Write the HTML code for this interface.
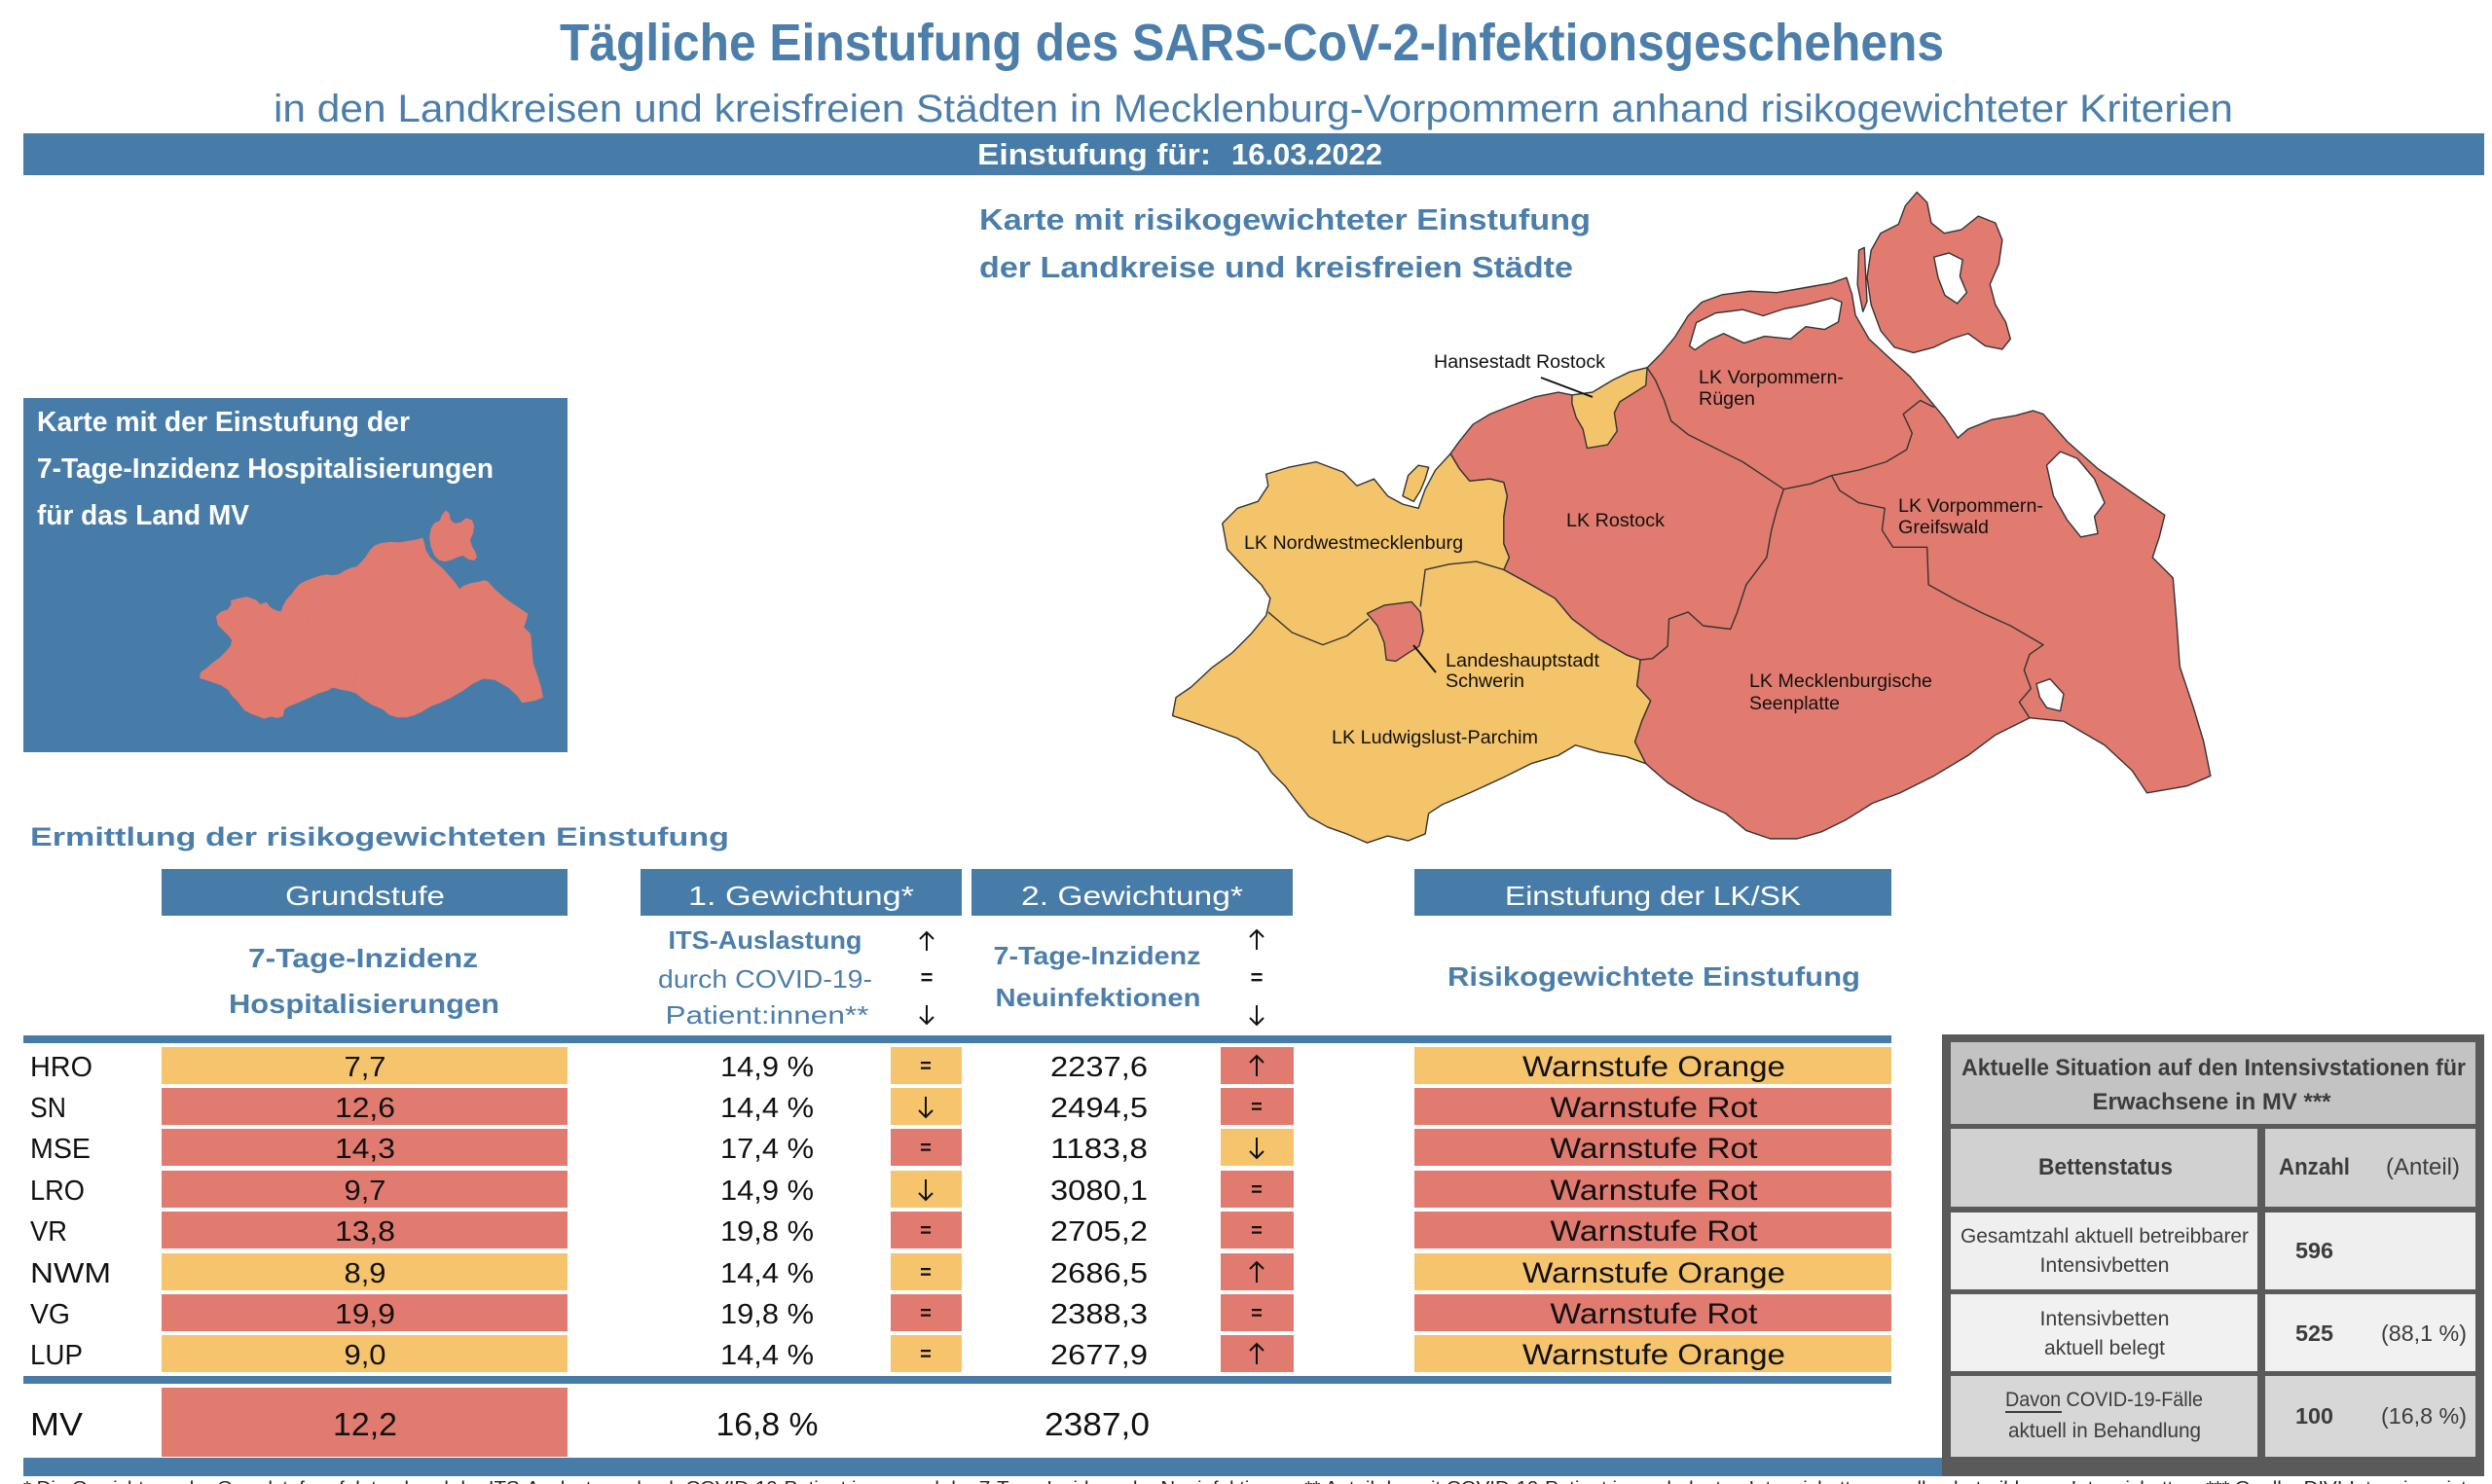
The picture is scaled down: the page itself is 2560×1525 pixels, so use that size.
<!DOCTYPE html>
<html><head><meta charset="utf-8"><style>
html,body{margin:0;padding:0;background:#fff}
svg{display:block}
text{font-family:"Liberation Sans","DejaVu Sans",sans-serif}
</style></head><body>
<svg width="2560" height="1525" viewBox="0 0 2560 1525" xmlns="http://www.w3.org/2000/svg">
<rect width="2560" height="1525" fill="#fff"/>

<!-- Titles -->
<text x="575" y="62" font-size="54" font-weight="bold" fill="#4b7eab" textLength="1422" lengthAdjust="spacingAndGlyphs">Tägliche Einstufung des SARS-CoV-2-Infektionsgeschehens</text>
<text x="281" y="125" font-size="40" fill="#4b7eab" textLength="2013" lengthAdjust="spacingAndGlyphs">in den Landkreisen und kreisfreien Städten in Mecklenburg-Vorpommern anhand risikogewichteter Kriterien</text>
<rect x="24" y="137" width="2528" height="43" fill="#477ca8"/>
<text x="1004" y="169" font-size="31" font-weight="bold" fill="#fff" textLength="240" lengthAdjust="spacingAndGlyphs">Einstufung für:</text>
<text x="1265" y="169" font-size="31" font-weight="bold" fill="#fff" textLength="155" lengthAdjust="spacingAndGlyphs">16.03.2022</text>

<!-- Left box -->
<rect x="24" y="409" width="559" height="364" fill="#477ca8"/>
<text x="38" y="443" font-size="29" font-weight="bold" fill="#fff" textLength="383" lengthAdjust="spacingAndGlyphs">Karte mit der Einstufung der</text>
<text x="38" y="491" font-size="29" font-weight="bold" fill="#fff" textLength="469" lengthAdjust="spacingAndGlyphs">7-Tage-Inzidenz Hospitalisierungen</text>
<text x="38" y="539" font-size="29" font-weight="bold" fill="#fff" textLength="218" lengthAdjust="spacingAndGlyphs">für das Land MV</text>
<g transform="translate(205,525) scale(0.2322,0.2249) translate(-35,-28)" fill="#e27b6f">
<polygon points="442,408 455,390 475,365 500,350 530,338 565,325 600,318 620,322 650,318 680,300 705,288 730,282 750,262 770,238 790,206 810,186 840,175 880,170 920,172 960,165 1000,158 1022,150 1030,175 1035,205 1055,240 1085,268 1115,295 1140,325 1165,355 1185,385 1200,372 1235,358 1270,352 1295,345 1310,350 1345,390 1390,430 1440,465 1488,498 1480,530 1470,560 1500,590 1505,650 1510,720 1530,780 1545,830 1555,880 1520,895 1462,905 1440,872 1400,835 1340,800 1290,795 1240,820 1200,850 1150,880 1100,905 1060,920 1020,945 985,962 950,972 910,972 875,960 845,935 800,915 760,890 728,862 712,830 722,800 735,770 715,748 720,710 700,703 660,680 620,650 595,620 560,600 520,578 528,560 520,540 520,500 525,470 520,450 500,445 470,448 455,430"/>
<polygon points="108,510 130,488 160,478 175,455 172,438 205,428 245,420 285,435 305,455 330,445 350,470 372,482 395,488 405,460 420,432 442,408 455,430 470,448 500,445 520,450 525,470 520,500 520,540 528,560 520,578 560,600 595,620 620,650 660,680 700,703 720,710 715,748 735,770 722,800 712,830 728,862 700,852 660,845 625,835 600,850 560,862 520,882 470,905 430,922 410,935 405,965 380,975 350,968 320,978 290,965 262,955 235,940 215,915 200,895 180,875 160,845 130,825 95,812 60,800 35,792 40,765 62,750 92,722 122,700 150,672 172,645 178,620 165,600 140,575 115,548"/>
<polygon points="1058,190 1052,150 1058,110 1072,85 1098,72 1108,45 1125,25 1140,40 1146,70 1165,85 1190,80 1215,60 1240,70 1250,95 1245,130 1232,160 1240,190 1255,215 1262,240 1250,255 1225,250 1200,232 1175,240 1150,252 1120,260 1092,252 1072,228"/>
</g>

<!-- Map title -->
<text x="1006" y="236" font-size="31" font-weight="bold" fill="#4b7eab" textLength="628" lengthAdjust="spacingAndGlyphs">Karte mit risikogewichteter Einstufung</text>
<text x="1006" y="285" font-size="31" font-weight="bold" fill="#4b7eab" textLength="610" lengthAdjust="spacingAndGlyphs">der Landkreise und kreisfreien Städte</text>

<!-- Big map -->
<g transform="translate(1180,180) scale(0.70151)" stroke="#333" stroke-width="1.4" stroke-linejoin="round">
<polygon vector-effect="non-scaling-stroke" fill="#e27b6f" points="442,408 455,390 475,365 500,350 530,338 565,325 600,318 620,322 650,318 680,300 705,288 730,282 750,262 770,238 790,206 810,186 840,175 880,170 920,172 960,165 1000,158 1022,150 1030,175 1035,205 1055,240 1085,268 1115,295 1140,325 1165,355 1185,385 1200,372 1235,358 1270,352 1295,345 1310,350 1345,390 1390,430 1440,465 1488,498 1480,530 1470,560 1500,590 1505,650 1510,720 1530,780 1545,830 1555,880 1520,895 1462,905 1440,872 1400,835 1340,800 1290,795 1240,820 1200,850 1150,880 1100,905 1060,920 1020,945 985,962 950,972 910,972 875,960 845,935 800,915 760,890 728,862 712,830 722,800 735,770 715,748 720,710 700,703 660,680 620,650 595,620 560,600 520,578 528,560 520,540 520,500 525,470 520,450 500,445 470,448 455,430"/>
<polygon vector-effect="non-scaling-stroke" fill="#f4c46b" points="108,510 130,488 160,478 175,455 172,438 205,428 245,420 285,435 305,455 330,445 350,470 372,482 395,488 405,460 420,432 442,408 455,430 470,448 500,445 520,450 525,470 520,500 520,540 528,560 520,578 560,600 595,620 620,650 660,680 700,703 720,710 715,748 735,770 722,800 712,830 728,862 700,852 660,845 625,835 600,850 560,862 520,882 470,905 430,922 410,935 405,965 380,975 350,968 320,978 290,965 262,955 235,940 215,915 200,895 180,875 160,845 130,825 95,812 60,800 35,792 40,765 62,750 92,722 122,700 150,672 172,645 178,620 165,600 140,575 115,548"/>
<polygon vector-effect="non-scaling-stroke" fill="#f4c46b" points="372,470 380,440 395,425 410,428 405,445 398,462 388,478"/>
<polygon vector-effect="non-scaling-stroke" fill="#e27b6f" points="1058,190 1052,150 1058,110 1072,85 1098,72 1108,45 1125,25 1140,40 1146,70 1165,85 1190,80 1215,60 1240,70 1250,95 1245,130 1232,160 1240,190 1255,215 1262,240 1250,255 1225,250 1200,232 1175,240 1150,252 1120,260 1092,252 1072,228"/>
<polygon vector-effect="non-scaling-stroke" fill="#e27b6f" points="1040,110 1048,106 1052,185 1046,200 1038,160"/>
<polygon vector-effect="non-scaling-stroke" fill="#fff" points="1150,120 1172,114 1192,124 1188,148 1198,172 1184,188 1166,176 1156,150"/>
<polygon vector-effect="non-scaling-stroke" fill="#fff" points="792,250 802,216 830,202 870,197 900,206 930,196 962,190 1000,180 1015,186 1010,215 990,226 962,222 940,240 902,236 872,246 842,232 820,242 800,256"/>
<polygon vector-effect="non-scaling-stroke" fill="#fff" points="1315,425 1335,405 1360,415 1385,445 1400,480 1385,500 1390,525 1365,530 1345,505 1325,470"/>
<polygon vector-effect="non-scaling-stroke" fill="#fff" points="1300,745 1320,738 1340,760 1335,785 1315,780 1305,765"/>
<polygon vector-effect="non-scaling-stroke" fill="#f4c46b" points="620,322 650,318 680,300 705,288 730,282 728,308 706,322 690,332 682,348 686,375 672,395 642,400 636,372 626,355 620,335"/>
<polygon vector-effect="non-scaling-stroke" fill="#e27b6f" points="320,642 345,630 385,625 398,640 402,668 396,690 380,700 362,712 348,710 345,685 335,660"/>
<g fill="none">
<polyline vector-effect="non-scaling-stroke" points="175,640 210,670 255,688 290,675 322,650"/>
<polyline vector-effect="non-scaling-stroke" points="398,632 405,578 440,570 480,566 520,578"/>
<polyline vector-effect="non-scaling-stroke" points="730,282 742,300 755,330 765,360 790,380 830,400 870,420 900,440 930,460"/>
<polyline vector-effect="non-scaling-stroke" points="930,460 920,490 912,520 905,560 875,600 862,640 852,665 812,660 790,640 762,650 760,690 738,708 720,710"/>
<polyline vector-effect="non-scaling-stroke" points="930,460 970,452 1000,440 1040,432 1080,420 1110,402 1118,378 1105,350 1130,330 1150,340"/>
<polyline vector-effect="non-scaling-stroke" points="1000,440 1012,462 1040,480 1078,488 1074,520 1090,545 1140,545 1142,600 1182,622 1222,642 1262,660 1310,688 1290,702 1282,725 1292,752 1275,772 1290,795"/>
</g>
</g>
<!-- leader lines -->
<line x1="1583" y1="388" x2="1636" y2="408" stroke="#111" stroke-width="2"/>
<line x1="1452" y1="663" x2="1475" y2="691" stroke="#111" stroke-width="2"/>
<!-- map labels -->
<g font-size="19" fill="#111">
<text x="1473" y="378" textLength="176" lengthAdjust="spacingAndGlyphs">Hansestadt Rostock</text>
<text x="1745" y="394" textLength="149" lengthAdjust="spacingAndGlyphs">LK Vorpommern-</text>
<text x="1745" y="416" textLength="58" lengthAdjust="spacingAndGlyphs">Rügen</text>
<text x="1609" y="541" textLength="101" lengthAdjust="spacingAndGlyphs">LK Rostock</text>
<text x="1950" y="526" textLength="149" lengthAdjust="spacingAndGlyphs">LK Vorpommern-</text>
<text x="1950" y="548" textLength="93" lengthAdjust="spacingAndGlyphs">Greifswald</text>
<text x="1278" y="564" textLength="225" lengthAdjust="spacingAndGlyphs">LK Nordwestmecklenburg</text>
<text x="1485" y="685" textLength="158" lengthAdjust="spacingAndGlyphs">Landeshauptstadt</text>
<text x="1485" y="706" textLength="81" lengthAdjust="spacingAndGlyphs">Schwerin</text>
<text x="1797" y="706" textLength="188" lengthAdjust="spacingAndGlyphs">LK Mecklenburgische</text>
<text x="1797" y="729" textLength="93" lengthAdjust="spacingAndGlyphs">Seenplatte</text>
<text x="1368" y="764" textLength="212" lengthAdjust="spacingAndGlyphs">LK Ludwigslust-Parchim</text>
</g>

<!-- Section heading -->
<text x="31" y="869" font-size="27" font-weight="bold" fill="#4b7eab" textLength="718" lengthAdjust="spacingAndGlyphs">Ermittlung der risikogewichteten Einstufung</text>

<!-- Header boxes -->
<rect x="166" y="893" width="417" height="48" fill="#477ca8"/>
<rect x="658" y="893" width="330" height="48" fill="#477ca8"/>
<rect x="998" y="893" width="330" height="48" fill="#477ca8"/>
<rect x="1453" y="893" width="490" height="48" fill="#477ca8"/>
<g font-size="28" fill="#fff" text-anchor="middle">
<text x="375" y="930" textLength="164" lengthAdjust="spacingAndGlyphs">Grundstufe</text>
<text x="823" y="930" textLength="232" lengthAdjust="spacingAndGlyphs">1. Gewichtung*</text>
<text x="1163" y="930" textLength="228" lengthAdjust="spacingAndGlyphs">2. Gewichtung*</text>
<text x="1698" y="930" textLength="304" lengthAdjust="spacingAndGlyphs">Einstufung der LK/SK</text>
</g>

<!-- Subheaders -->
<g fill="#4b7eab" text-anchor="middle">
<text x="373" y="994" font-size="28" font-weight="bold" textLength="236" lengthAdjust="spacingAndGlyphs">7-Tage-Inzidenz</text>
<text x="374" y="1041" font-size="28" font-weight="bold" textLength="278" lengthAdjust="spacingAndGlyphs">Hospitalisierungen</text>
<text x="786" y="975" font-size="26" font-weight="bold" textLength="199" lengthAdjust="spacingAndGlyphs">ITS-Auslastung</text>
<text x="786" y="1015" font-size="26" textLength="220" lengthAdjust="spacingAndGlyphs">durch COVID-19-</text>
<text x="788" y="1052" font-size="26" textLength="209" lengthAdjust="spacingAndGlyphs">Patient:innen**</text>
<text x="1127" y="991" font-size="26" font-weight="bold" textLength="213" lengthAdjust="spacingAndGlyphs">7-Tage-Inzidenz</text>
<text x="1128" y="1034" font-size="26" font-weight="bold" textLength="211" lengthAdjust="spacingAndGlyphs">Neuinfektionen</text>
<text x="1699" y="1013" font-size="28" font-weight="bold" textLength="424" lengthAdjust="spacingAndGlyphs">Risikogewichtete Einstufung</text>
</g>
<g font-size="22" fill="#111" text-anchor="middle" font-weight="bold">
<text x="952" y="1012">=</text>
<text x="1291" y="1012">=</text>
</g>
<g fill="none" stroke="#111" stroke-width="2">
<path d="M952 958 V977 M945 965 L952 958 L959 965"/>
<path d="M952 1033 V1052 M945 1045 L952 1052 L959 1045"/>
<path d="M1291 956 V976 M1284 963 L1291 956 L1298 963"/>
<path d="M1291 1033 V1053 M1284 1046 L1291 1053 L1298 1046"/>
</g>

<!-- lines -->
<rect x="24" y="1064" width="1919" height="8" fill="#477ca8"/>
<rect x="24" y="1414" width="1919" height="8" fill="#477ca8"/>
<rect x="24" y="1498" width="1972" height="19" fill="#477ca8"/>

<!-- Row boxes -->
<g>
<rect x="166" y="1076" width="417" height="38" fill="#f5c46d"/><rect x="915" y="1076" width="73" height="38" fill="#f5c46d"/><rect x="1254" y="1076" width="75" height="38" fill="#e27b6f"/><rect x="1453" y="1076" width="490" height="38" fill="#f5c46d"/>
<rect x="166" y="1118" width="417" height="38" fill="#e27b6f"/><rect x="915" y="1118" width="73" height="38" fill="#f5c46d"/><rect x="1254" y="1118" width="75" height="38" fill="#e27b6f"/><rect x="1453" y="1118" width="490" height="38" fill="#e27b6f"/>
<rect x="166" y="1160" width="417" height="38" fill="#e27b6f"/><rect x="915" y="1160" width="73" height="38" fill="#e27b6f"/><rect x="1254" y="1160" width="75" height="38" fill="#f5c46d"/><rect x="1453" y="1160" width="490" height="38" fill="#e27b6f"/>
<rect x="166" y="1203" width="417" height="38" fill="#e27b6f"/><rect x="915" y="1203" width="73" height="38" fill="#f5c46d"/><rect x="1254" y="1203" width="75" height="38" fill="#e27b6f"/><rect x="1453" y="1203" width="490" height="38" fill="#e27b6f"/>
<rect x="166" y="1245" width="417" height="38" fill="#e27b6f"/><rect x="915" y="1245" width="73" height="38" fill="#e27b6f"/><rect x="1254" y="1245" width="75" height="38" fill="#e27b6f"/><rect x="1453" y="1245" width="490" height="38" fill="#e27b6f"/>
<rect x="166" y="1288" width="417" height="38" fill="#f5c46d"/><rect x="915" y="1288" width="73" height="38" fill="#f5c46d"/><rect x="1254" y="1288" width="75" height="38" fill="#e27b6f"/><rect x="1453" y="1288" width="490" height="38" fill="#f5c46d"/>
<rect x="166" y="1330" width="417" height="38" fill="#e27b6f"/><rect x="915" y="1330" width="73" height="38" fill="#e27b6f"/><rect x="1254" y="1330" width="75" height="38" fill="#e27b6f"/><rect x="1453" y="1330" width="490" height="38" fill="#e27b6f"/>
<rect x="166" y="1372" width="417" height="38" fill="#f5c46d"/><rect x="915" y="1372" width="73" height="38" fill="#f5c46d"/><rect x="1254" y="1372" width="75" height="38" fill="#e27b6f"/><rect x="1453" y="1372" width="490" height="38" fill="#f5c46d"/>
<rect x="166" y="1426" width="417" height="71" fill="#e27b6f"/>
</g>

<!-- Row labels -->
<g font-size="29" fill="#111">
<text x="31" y="1106" textLength="64" lengthAdjust="spacingAndGlyphs">HRO</text>
<text x="31" y="1148" textLength="37" lengthAdjust="spacingAndGlyphs">SN</text>
<text x="31" y="1190" textLength="62" lengthAdjust="spacingAndGlyphs">MSE</text>
<text x="31" y="1233" textLength="56" lengthAdjust="spacingAndGlyphs">LRO</text>
<text x="31" y="1275" textLength="38" lengthAdjust="spacingAndGlyphs">VR</text>
<text x="31" y="1318" textLength="83" lengthAdjust="spacingAndGlyphs">NWM</text>
<text x="31" y="1360" textLength="41" lengthAdjust="spacingAndGlyphs">VG</text>
<text x="31" y="1402" textLength="54" lengthAdjust="spacingAndGlyphs">LUP</text>
</g>
<text x="31" y="1475" font-size="33" fill="#111" textLength="54" lengthAdjust="spacingAndGlyphs">MV</text>

<!-- Values -->
<g font-size="29" fill="#111" text-anchor="middle">
<text x="375" y="1106" textLength="43" lengthAdjust="spacingAndGlyphs">7,7</text>
<text x="375" y="1148" textLength="62" lengthAdjust="spacingAndGlyphs">12,6</text>
<text x="375" y="1190" textLength="62" lengthAdjust="spacingAndGlyphs">14,3</text>
<text x="375" y="1233" textLength="43" lengthAdjust="spacingAndGlyphs">9,7</text>
<text x="375" y="1275" textLength="62" lengthAdjust="spacingAndGlyphs">13,8</text>
<text x="375" y="1318" textLength="43" lengthAdjust="spacingAndGlyphs">8,9</text>
<text x="375" y="1360" textLength="62" lengthAdjust="spacingAndGlyphs">19,9</text>
<text x="375" y="1402" textLength="43" lengthAdjust="spacingAndGlyphs">9,0</text>
<text x="788" y="1106" textLength="96" lengthAdjust="spacingAndGlyphs">14,9 %</text>
<text x="788" y="1148" textLength="96" lengthAdjust="spacingAndGlyphs">14,4 %</text>
<text x="788" y="1190" textLength="96" lengthAdjust="spacingAndGlyphs">17,4 %</text>
<text x="788" y="1233" textLength="96" lengthAdjust="spacingAndGlyphs">14,9 %</text>
<text x="788" y="1275" textLength="96" lengthAdjust="spacingAndGlyphs">19,8 %</text>
<text x="788" y="1318" textLength="96" lengthAdjust="spacingAndGlyphs">14,4 %</text>
<text x="788" y="1360" textLength="96" lengthAdjust="spacingAndGlyphs">19,8 %</text>
<text x="788" y="1402" textLength="96" lengthAdjust="spacingAndGlyphs">14,4 %</text>
<text x="1129" y="1106" textLength="100" lengthAdjust="spacingAndGlyphs">2237,6</text>
<text x="1129" y="1148" textLength="100" lengthAdjust="spacingAndGlyphs">2494,5</text>
<text x="1129" y="1190" textLength="100" lengthAdjust="spacingAndGlyphs">1183,8</text>
<text x="1129" y="1233" textLength="100" lengthAdjust="spacingAndGlyphs">3080,1</text>
<text x="1129" y="1275" textLength="100" lengthAdjust="spacingAndGlyphs">2705,2</text>
<text x="1129" y="1318" textLength="100" lengthAdjust="spacingAndGlyphs">2686,5</text>
<text x="1129" y="1360" textLength="100" lengthAdjust="spacingAndGlyphs">2388,3</text>
<text x="1129" y="1402" textLength="100" lengthAdjust="spacingAndGlyphs">2677,9</text>
</g>
<g font-size="33" fill="#111" text-anchor="middle">
<text x="375" y="1475" textLength="66" lengthAdjust="spacingAndGlyphs">12,2</text>
<text x="788" y="1475" textLength="105" lengthAdjust="spacingAndGlyphs">16,8 %</text>
<text x="1127" y="1475" textLength="108" lengthAdjust="spacingAndGlyphs">2387,0</text>
</g>

<!-- "=" symbols in boxes -->
<g fill="#111" text-anchor="middle" font-size="20" font-weight="bold">
<text x="951" y="1102">=</text>
<text x="951" y="1186">=</text>
<text x="951" y="1271">=</text>
<text x="951" y="1314">=</text>
<text x="951" y="1356">=</text>
<text x="951" y="1398">=</text>
<text x="1291" y="1144">=</text>
<text x="1291" y="1229">=</text>
<text x="1291" y="1271">=</text>
<text x="1291" y="1356">=</text>
</g>
<!-- arrows in boxes -->
<g fill="none" stroke="#111" stroke-width="2">
<path d="M951 1127 V1148 M944 1141 L951 1148 L958 1141"/>
<path d="M951 1212 V1233 M944 1226 L951 1233 L958 1226"/>
<path d="M1291 1085 V1106 M1284 1092 L1291 1085 L1298 1092"/>
<path d="M1291 1169 V1190 M1284 1183 L1291 1190 L1298 1183"/>
<path d="M1291 1297 V1318 M1284 1304 L1291 1297 L1298 1304"/>
<path d="M1291 1381 V1402 M1284 1388 L1291 1381 L1298 1388"/>
</g>

<!-- Warnstufe -->
<g font-size="30" fill="#111" text-anchor="middle">
<text x="1699" y="1106" textLength="270" lengthAdjust="spacingAndGlyphs">Warnstufe Orange</text>
<text x="1699" y="1148" textLength="213" lengthAdjust="spacingAndGlyphs">Warnstufe Rot</text>
<text x="1699" y="1190" textLength="213" lengthAdjust="spacingAndGlyphs">Warnstufe Rot</text>
<text x="1699" y="1233" textLength="213" lengthAdjust="spacingAndGlyphs">Warnstufe Rot</text>
<text x="1699" y="1275" textLength="213" lengthAdjust="spacingAndGlyphs">Warnstufe Rot</text>
<text x="1699" y="1318" textLength="270" lengthAdjust="spacingAndGlyphs">Warnstufe Orange</text>
<text x="1699" y="1360" textLength="213" lengthAdjust="spacingAndGlyphs">Warnstufe Rot</text>
<text x="1699" y="1402" textLength="270" lengthAdjust="spacingAndGlyphs">Warnstufe Orange</text>
</g>

<!-- ITS gray box -->
<rect x="1995" y="1063" width="557" height="454" fill="#5a5a5a"/>
<rect x="2004" y="1071" width="539" height="84" fill="#c3c3c3"/>
<rect x="2004" y="1160" width="315" height="80" fill="#d1d1d1"/>
<rect x="2327" y="1160" width="216" height="80" fill="#d1d1d1"/>
<rect x="2004" y="1246" width="315" height="79" fill="#efefef"/>
<rect x="2327" y="1246" width="216" height="79" fill="#efefef"/>
<rect x="2004" y="1330" width="315" height="79" fill="#f1f1f1"/>
<rect x="2327" y="1330" width="216" height="79" fill="#f1f1f1"/>
<rect x="2004" y="1414" width="315" height="83" fill="#d7d7d7"/>
<rect x="2327" y="1414" width="216" height="83" fill="#d7d7d7"/>
<g fill="#3c3c3c">
<text x="2274" y="1105" font-size="24" font-weight="bold" text-anchor="middle" textLength="518" lengthAdjust="spacingAndGlyphs">Aktuelle Situation auf den Intensivstationen für</text>
<text x="2272" y="1140" font-size="24" font-weight="bold" text-anchor="middle" textLength="245" lengthAdjust="spacingAndGlyphs">Erwachsene in MV ***</text>
<text x="2163" y="1207" font-size="24" font-weight="bold" text-anchor="middle" textLength="138" lengthAdjust="spacingAndGlyphs">Bettenstatus</text>
<text x="2341" y="1207" font-size="24" font-weight="bold" textLength="73" lengthAdjust="spacingAndGlyphs">Anzahl</text>
<text x="2451" y="1207" font-size="24" textLength="76" lengthAdjust="spacingAndGlyphs">(Anteil)</text>
<text x="2162" y="1277" font-size="21" text-anchor="middle" textLength="296" lengthAdjust="spacingAndGlyphs">Gesamtzahl aktuell betreibbarer</text>
<text x="2162" y="1307" font-size="21" text-anchor="middle" textLength="133" lengthAdjust="spacingAndGlyphs">Intensivbetten</text>
<text x="2358" y="1293" font-size="23" font-weight="bold" textLength="39" lengthAdjust="spacingAndGlyphs">596</text>
<text x="2162" y="1362" font-size="21" text-anchor="middle" textLength="133" lengthAdjust="spacingAndGlyphs">Intensivbetten</text>
<text x="2162" y="1392" font-size="21" text-anchor="middle" textLength="124" lengthAdjust="spacingAndGlyphs">aktuell belegt</text>
<text x="2358" y="1378" font-size="23" font-weight="bold" textLength="39" lengthAdjust="spacingAndGlyphs">525</text>
<text x="2446" y="1378" font-size="23" textLength="88" lengthAdjust="spacingAndGlyphs">(88,1 %)</text>
<text x="2060" y="1445" font-size="21" textLength="203" lengthAdjust="spacingAndGlyphs">Davon COVID-19-Fälle</text>
<rect x="2060" y="1450" width="58" height="2" fill="#3c3c3c"/>
<text x="2162" y="1477" font-size="21" text-anchor="middle" textLength="198" lengthAdjust="spacingAndGlyphs">aktuell in Behandlung</text>
<text x="2358" y="1463" font-size="23" font-weight="bold" textLength="39" lengthAdjust="spacingAndGlyphs">100</text>
<text x="2446" y="1463" font-size="23" textLength="88" lengthAdjust="spacingAndGlyphs">(16,8 %)</text>
</g>

<!-- Footer (cut off) -->
<text x="24" y="1535" font-size="18" fill="#222" textLength="2528" lengthAdjust="spacingAndGlyphs">* Die Gewichtung der Grundstufe erfolgt anhand der ITS-Auslastung durch COVID-19-Patient:innen und der 7-Tage-Inzidenz der Neuinfektionen; ** Anteil der mit COVID-19-Patient:innen belegten Intensivbetten an allen betreibbaren Intensivbetten; *** Quelle: DIVI-Intensivregister</text>
</svg>
</body></html>
